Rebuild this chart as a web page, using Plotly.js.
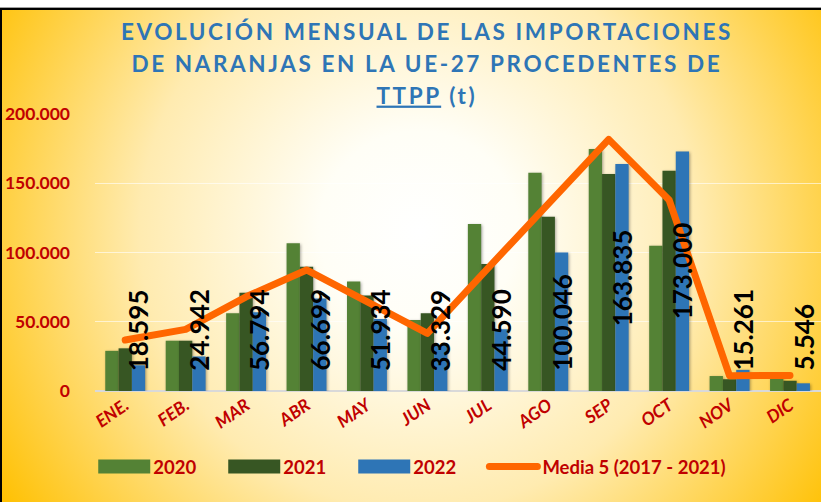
<!DOCTYPE html>
<html>
<head>
<meta charset="utf-8">
<script src="https://cdn.plot.ly/plotly-3.0.1.min.js"></script>
<style>
html,body{margin:0;padding:0;background:#fff;}
#wrap{position:relative;width:821px;height:502px;overflow:hidden;
  background: radial-gradient(circle farthest-corner at 51% 46%, #FFFFFF 0%, #FFFEF6 20%, #FFEBB0 56%, #FFC000 100%);}
#chart{position:absolute;left:0;top:0;width:821px;height:502px;}
#topstrip{position:absolute;left:0;top:0;width:821px;height:7px;background:#fff;border-bottom:1px solid #a0a0a0;z-index:5;}
#topline{position:absolute;left:0;top:8px;width:821px;height:2px;background:#000;z-index:5;}
#leftline{position:absolute;left:0;top:8px;width:2px;height:494px;background:#000;z-index:5;}
.gtitle{letter-spacing:2.6px;}
.js-line{stroke-linejoin:round;stroke-linecap:round;}
.barlayer .point path{filter:drop-shadow(1.5px 1.5px 1.5px rgba(0,0,0,0.35));}
</style>
</head>
<body>
<div id="wrap">
  <div id="chart"></div>
  <div id="topstrip"></div>
  <div id="topline"></div>
  <div id="leftline"></div>
</div>
<script>
// ---- data (t) ----
const months = ['ENE.','FEB.','MAR','ABR','MAY','JUN','JUL','AGO','SEP','OCT','NOV','DIC'];
const y2020 = [29000, 36300, 56100, 106600, 79000, 51300, 120600, 157600, 174700, 104900, 10800, 9600];
const y2021 = [30800, 36300, 71000, 89800, 69000, 56100, 91700, 125900, 156700, 159100, 8500, 7400];
const y2022 = [18595, 24942, 56794, 66699, 51934, 33329, 44590, 100046, 163835, 173000, 15261, 5546];
const media = [36800, 44500, 68000, 87400, 64500, 41600, 88600, 135000, 181700, 137900, 11000, 11200];
const seriesNames = ['2020', '2021', '2022', 'Media 5 (2017 - 2021)'];

// labels drawn centred in the bar (the rest sit at the bar base)
const centredLabelMonths = ['SEP', 'OCT'];

const RED = '#C00000';
const fmt = v => String(v).replace(/\B(?=(\d{3})+(?!\d))/g, '.');

const traces = [
  {type:'bar', name:seriesNames[0], x:months, y:y2020, marker:{color:'#548235'}, hoverinfo:'skip', legend:'legend'},
  {type:'bar', name:seriesNames[1], x:months, y:y2021, marker:{color:'#375623'}, hoverinfo:'skip', legend:'legend'},
  {type:'bar', name:seriesNames[2], x:months, y:y2022, marker:{color:'#2E75B6'}, hoverinfo:'skip', legend:'legend'},
  {type:'scatter', mode:'lines', name:seriesNames[3], x:months, y:media,
   line:{color:'#FF6600', width:7}, hoverinfo:'skip', legend:'legend2'}
];

const annotations = months.map((m, i) => {
  const mid = centredLabelMonths.includes(m);
  return {
    x: m, y: mid ? y2022[i] / 2 : 0, xref:'x', yref:'y',
    xshift: 13, yshift: mid ? 0 : 18,
    text: fmt(y2022[i]), textangle: -90, showarrow: false,
    xanchor:'center', yanchor: mid ? 'middle' : 'bottom',
    font:{family:'Lato, sans-serif', size:26, color:'#000000', weight:'bold'}
  };
});

const ITEMW = 48;
const legendFont = {family:'Lato, sans-serif', size:18.5, color:RED, weight:'bold'};

const layout = {
  width: 821, height: 502,
  paper_bgcolor:'rgba(0,0,0,0)', plot_bgcolor:'rgba(0,0,0,0)',
  separators: ',.',
  margin:{l:95, r:0, t:114, b:111},
  barmode:'group', bargap:0.34, bargroupgap:0,
  title:{
    text:'<span style="font-size:22.5px">EVOLUCIÓN MENSUAL DE LAS IMPORTACIONES<br>DE NARANJAS EN LA UE-27 PROCEDENTES DE<br><u>TTPP</u> (t)</span>',
    font:{family:'Lato, sans-serif', size:24.6, color:'#2E75B6', weight:'bold'},
    x:0.52, xref:'container', xanchor:'center',
    y:0.921, yref:'container', yanchor:'top'
  },
  xaxis:{
    type:'category', tickangle:-35, showgrid:false, zeroline:false, showline:false,
    ticks:'', tickfont:{family:'Lato, sans-serif', size:17.5, color:RED, weight:'bold', style:'italic'}
  },
  yaxis:{
    range:[0, 200000], dtick:50000, tickformat:',d',
    showgrid:true, gridcolor:'rgba(255,255,255,0.6)', gridwidth:1,
    zeroline:true, zerolinecolor:'#D9D9D9', zerolinewidth:2,
    showline:false, ticks:'', ticklabelstandoff:24,
    tickfont:{family:'Lato, sans-serif', size:17.5, color:RED, weight:'bold'}
  },
  showlegend:true,
  legend:{
    orientation:'h', xref:'container', x:0.116, xanchor:'left',
    yref:'container', y:0.07, yanchor:'middle',
    bgcolor:'rgba(0,0,0,0)', itemwidth:ITEMW, entrywidth:67,
    font:legendFont
  },
  legend2:{
    orientation:'h', xref:'container', x:0.59, xanchor:'left',
    yref:'container', y:0.07, yanchor:'middle',
    bgcolor:'rgba(0,0,0,0)', itemwidth:ITEMW,
    font:legendFont
  },
  annotations: annotations
};

Plotly.newPlot('chart', traces, layout, {displayModeBar:false, staticPlot:true}).then(gd => {
  // wide legend swatches, as in the original chart
  gd.querySelectorAll('.legend .traces').forEach(tr => {
    tr.querySelectorAll('.legendpoints path').forEach(p => p.setAttribute('d', 'M-26,7H26V-7H-26Z'));
    tr.querySelectorAll('.legendlines path').forEach(p => {
      p.setAttribute('d', 'M3,0h' + (ITEMW - 6));
      p.style.strokeLinecap = 'round';
    });
  });
});
</script>
</body>
</html>
